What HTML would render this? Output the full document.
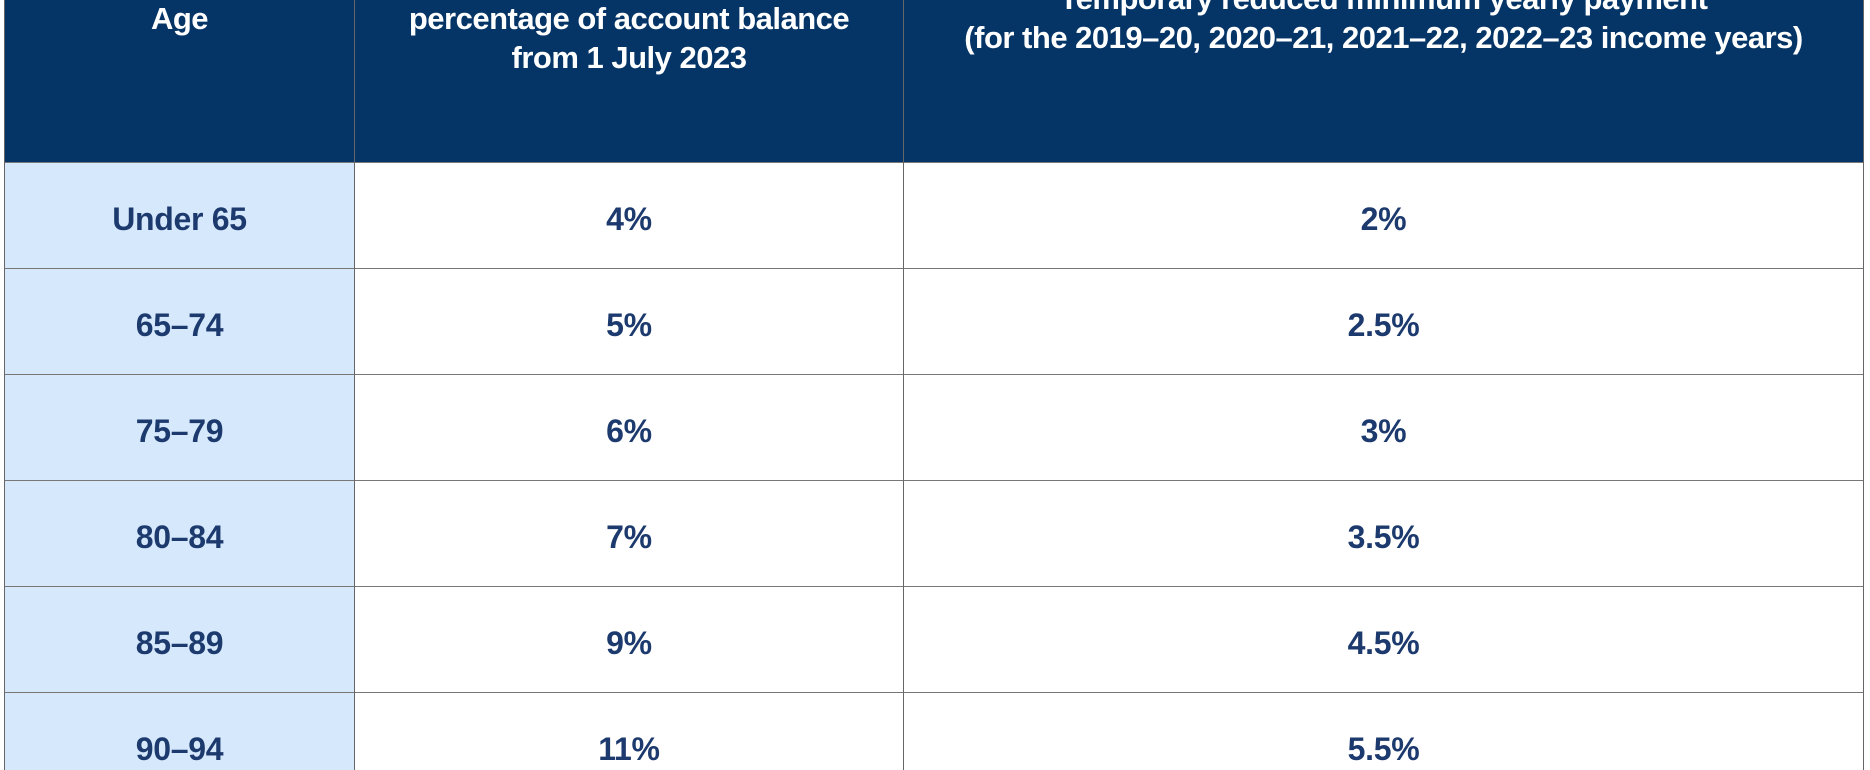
<!DOCTYPE html>
<html style="overflow:hidden;width:1870px;height:770px"><head><style>
body{margin:0;width:1870px;height:770px;overflow:hidden;position:relative;background:#fff;font-family:"Liberation Sans",sans-serif;}
.hd{position:absolute;top:0;height:162px;background:#053566;}
.t{position:absolute;color:#fff;font-weight:bold;font-size:31px;text-align:center;white-space:nowrap;line-height:39px;letter-spacing:-0.5px}
.row{position:absolute;left:5px;width:1858px;height:106px;border-top:1px solid #777;overflow:hidden}
.c1{position:absolute;left:0;width:349px;height:106px;background:#d6e8fb;}
.c{position:absolute;top:0;height:106px;line-height:112px;text-align:center;color:#1c3a6e;font-weight:bold;font-size:32px;letter-spacing:-0.3px}
.vl{position:absolute;top:0;width:1px;height:770px;background:#666}
</style></head><body>
<div class="hd" style="left:5px;width:1858px"></div>
<div class="t" style="left:5px;width:349px;top:-1px">Age</div>
<div class="t" style="left:355px;width:548px;top:-40px">Default minimum annual payment as a<br>percentage of account balance<br>from 1 July 2023</div>
<div class="t" style="left:904px;width:959px;top:-21px">Temporary reduced minimum yearly payment<br>(for the 2019–20, 2020–21, 2021–22, 2022–23 income years)</div>
<div class="row" style="top:162px"><div class="c1"></div><div class="c" style="left:0;width:349px">Under 65</div><div class="c" style="left:350px;width:548px">4%</div><div class="c" style="left:899px;width:959px">2%</div></div>
<div class="row" style="top:268px"><div class="c1"></div><div class="c" style="left:0;width:349px">65–74</div><div class="c" style="left:350px;width:548px">5%</div><div class="c" style="left:899px;width:959px">2.5%</div></div>
<div class="row" style="top:374px"><div class="c1"></div><div class="c" style="left:0;width:349px">75–79</div><div class="c" style="left:350px;width:548px">6%</div><div class="c" style="left:899px;width:959px">3%</div></div>
<div class="row" style="top:480px"><div class="c1"></div><div class="c" style="left:0;width:349px">80–84</div><div class="c" style="left:350px;width:548px">7%</div><div class="c" style="left:899px;width:959px">3.5%</div></div>
<div class="row" style="top:586px"><div class="c1"></div><div class="c" style="left:0;width:349px">85–89</div><div class="c" style="left:350px;width:548px">9%</div><div class="c" style="left:899px;width:959px">4.5%</div></div>
<div class="row" style="top:692px;height:78px"><div class="c1" style="height:78px"></div><div class="c" style="left:0;width:349px">90–94</div><div class="c" style="left:350px;width:548px">11%</div><div class="c" style="left:899px;width:959px">5.5%</div></div>
<div class="vl" style="left:4px"></div>
<div class="vl" style="left:354px"></div>
<div class="vl" style="left:903px"></div>
<div class="vl" style="left:1863px"></div>
</body></html>
